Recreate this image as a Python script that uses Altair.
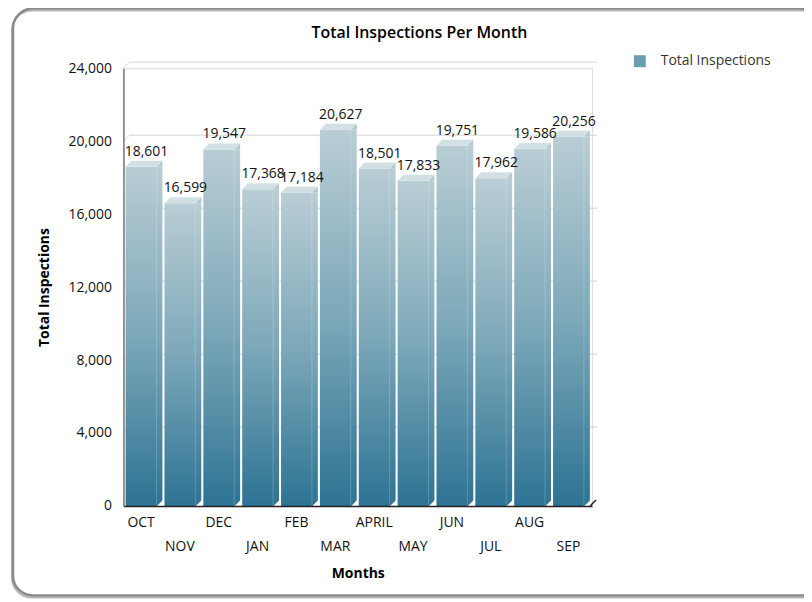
import json
import altair as alt
import pandas as pd

months = ["OCT", "NOV", "DEC", "JAN", "FEB", "MAR", "APRIL", "MAY", "JUN", "JUL", "AUG", "SEP"]
inspections = [18601, 16599, 19547, 17368, 17184, 20627, 18501, 17833, 19751, 17962, 19586, 20256]
y_ticks = [0, 4000, 8000, 12000, 16000, 20000, 24000]
grid_ticks = [4000, 8000, 12000, 16000, 20000, 24000]
series_name = "Total Inspections"

df = pd.DataFrame({"month": months, "value": inspections, "series": [series_name] * len(months)})
grid_df = pd.DataFrame({"value": grid_ticks})

FONT = "Open Sans"
W, H = 471, 440

x_enc = alt.X("month:N", sort=months,
              scale=alt.Scale(paddingInner=0, paddingOuter=0.03),
              axis=alt.Axis(title="Months", labelAngle=0, ticks=False, labelPadding=10,
                            labelFontSize=14, labelColor="#111", labelFont=FONT,
                            labelOffset=-3, labelLineHeight=24,
                            labelExpr="indexof(" + json.dumps(months).replace('"', "'") +
                                      ", datum.value) % 2 == 1 ? ['', datum.label] : datum.label",
                            domainColor="#222", domainWidth=1.5, zindex=2,
                            titleFontSize=14, titleFontWeight="bold", titleFont=FONT,
                            titleColor="#000", titleY=68, titleBaseline="middle", grid=False))
y_scale = alt.Scale(domain=[0, 24000], nice=False)
y_enc = alt.Y("value:Q", scale=y_scale,
              axis=alt.Axis(title="Total Inspections", values=y_ticks, format=",d", ticks=False,
                            labelPadding=12, labelFontSize=14, labelColor="#111", labelFont=FONT,
                            domainColor="#777", domainWidth=1.5, zindex=2, grid=False,
                            titleFontSize=14, titleFontWeight="bold", titleFont=FONT,
                            titleColor="#000", titleX=-79, titleY=220, titleAngle=-90,
                            titleAlign="center", titleBaseline="middle"))

base = alt.Chart(df)

frame = base.mark_rect(fill=None, stroke="#8a8a8a", strokeWidth=2.5, cornerRadius=20).encode(
    x=alt.value(-111), x2=alt.value(700), y=alt.value(-60), y2=alt.value(530)
).transform_filter("datum.month == 'OCT'")
frame_shadow = base.mark_rect(fill=None, stroke="#b5b5b5", strokeWidth=2, cornerRadius=20).encode(
    x=alt.value(-112), x2=alt.value(700), y=alt.value(-58), y2=alt.value(532)
).transform_filter("datum.month == 'OCT'")

grid = alt.Chart(grid_df).mark_rule(color="#d3d3d3", strokeWidth=1, yOffset=-6).encode(
    x=alt.value(6), x2=alt.value(476),
    y=alt.Y("value:Q"))
grid_diag = alt.Chart(grid_df).mark_rule(color="#d3d3d3", strokeWidth=1, y2Offset=-6).encode(
    x=alt.value(0), x2=alt.value(6),
    y=alt.Y("value:Q"), y2=alt.Y2("value:Q"))

grad = alt.Gradient(gradient="linear", x1=0, x2=0, y1=0, y2=1,
                    stops=[alt.GradientStop(color="#b9cdd4", offset=0),
                           alt.GradientStop(color="#7ca8b9", offset=0.5),
                           alt.GradientStop(color="#2d7393", offset=1)])
bars = base.mark_bar(fill=grad, width=37, stroke=None).encode(x=x_enc, y=y_enc)

top_face = base.mark_point(shape="M -18.5 0 L 12.5 0 L 18.5 -6 L -12.5 -6 Z", size=4,
                           filled=True, fill="#d2e0e4", opacity=1, strokeWidth=0).encode(
    x=alt.X("month:N", sort=months), y=alt.Y("value:Q"))
side_top = base.mark_point(shape="M 12.5 0 L 18.5 -6 L 18.5 0 Z", size=4,
                           filled=True, fill="#b3c9d0", opacity=1, strokeWidth=0).encode(
    x=alt.X("month:N", sort=months), y=alt.Y("value:Q"))
side_line = base.mark_rule(color="#ffffff", strokeWidth=0.6, opacity=0.35, xOffset=12.5).encode(
    x=alt.X("month:N", sort=months), y=alt.Y("value:Q"), y2=alt.Y2(datum=0))
bottom_cut = base.mark_point(shape="M 12.5 0.5 L 19.5 -6.5 L 19.5 0.5 Z", size=4,
                             filled=True, fill="#ffffff", opacity=1, strokeWidth=0).encode(
    x=alt.X("month:N", sort=months), y=alt.Y(datum=0))

labels = base.mark_text(baseline="alphabetic", dy=-11, dx=2.5, fontSize=14, color="#111",
                        font=FONT).encode(
    x=alt.X("month:N", sort=months), y=alt.Y("value:Q"),
    text=alt.Text("value:Q", format=",d"))

base_diag = base.mark_rule(color="#222", strokeWidth=1.5).encode(
    x=alt.value(469), x2=alt.value(475), y=alt.value(440), y2=alt.value(434)
).transform_filter("datum.month == 'OCT'")

legend_layer = base.mark_square(opacity=1).encode(
    color=alt.Color("series:N",
                    scale=alt.Scale(domain=[series_name], range=["#6a9db2"]),
                    legend=alt.Legend(title=None, orient="none", legendX=512, legendY=-14,
                                      symbolType="square", symbolSize=144, symbolStrokeWidth=0,
                                      symbolOpacity=1, labelFontSize=14, labelColor="#333",
                                      labelFont=FONT, labelOffset=14, padding=0))
).transform_filter("false")

chart = alt.layer(grid, grid_diag, bars, frame_shadow, frame, side_top, side_line, top_face,
                  bottom_cut, labels, base_diag, legend_layer).properties(
    width=W, height=H,
    autosize=alt.AutoSizeParams(type="none"),
    padding={"left": 116, "top": 59, "right": 213, "bottom": 93},
    title=alt.Title("Total Inspections Per Month", fontSize=16, fontWeight=600, font=FONT,
                    color="#000", anchor="middle", dx=62, offset=0, dy=34)
).configure_view(strokeWidth=0).configure(background="white")

chart.save("out.html", embed_options={"renderer": "svg", "actions": False})
